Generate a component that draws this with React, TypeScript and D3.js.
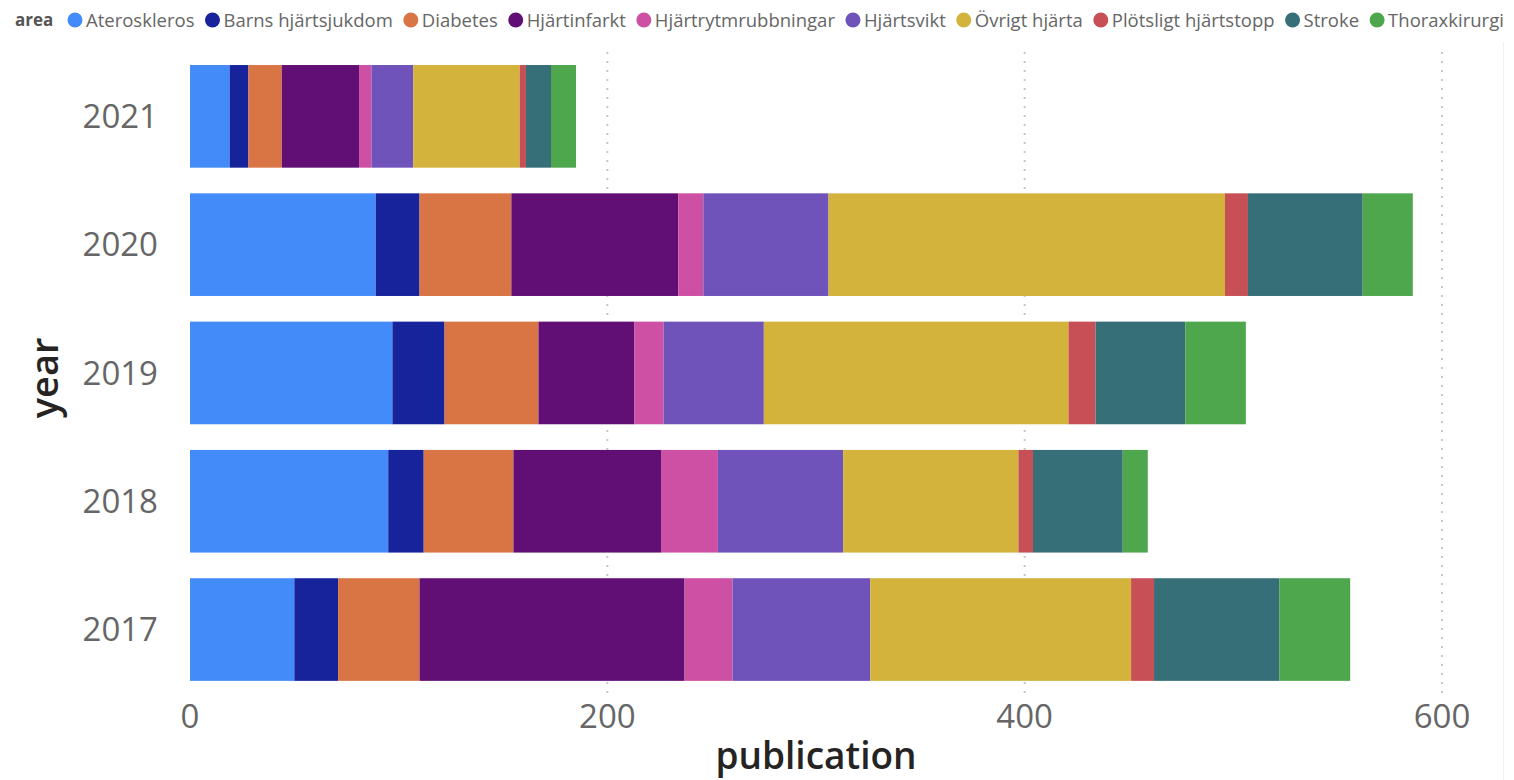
import React, { useEffect, useRef } from "react";
import * as d3 from "d3";

const years = ["2021", "2020", "2019", "2018", "2017"];
const areas = [
  "Ateroskleros",
  "Barns hjärtsjukdom",
  "Diabetes",
  "Hjärtinfarkt",
  "Hjärtrytmrubbningar",
  "Hjärtsvikt",
  "Övrigt hjärta",
  "Plötsligt hjärtstopp",
  "Stroke",
  "Thoraxkirurgi",
];
const areaColors = [
  "#428BF9",
  "#16239A",
  "#D97445",
  "#610F74",
  "#CE50A4",
  "#6F53BA",
  "#D3B33C",
  "#C65055",
  "#366F78",
  "#4EA74C",
];
// publications per area, one array per year (same order as areas)
const values2021 = [19, 9, 16, 37, 6, 20, 51, 3, 12, 12];
const values2020 = [89, 21, 44, 80, 12, 60, 190, 11, 55, 24];
const values2019 = [97, 25, 45, 46, 14, 48, 146, 13, 43, 29];
const values2018 = [95, 17, 43, 71, 27, 60, 84, 7, 43, 12];
const values2017 = [50, 21, 39, 127, 23, 66, 125, 11, 60, 34];
const xTicks = [0, 200, 400, 600];

const W = 1514;
const H = 780;
const FONT = "'Segoe UI', 'Open Sans', 'Noto Sans', sans-serif";

export default function App() {
  const ref = useRef<SVGSVGElement | null>(null);

  useEffect(() => {
    document.body.style.margin = "0";
    const svg = d3.select(ref.current);
    svg.selectAll("*").remove();

    const byYear: Record<string, number[]> = {
      "2021": values2021,
      "2020": values2020,
      "2019": values2019,
      "2018": values2018,
      "2017": values2017,
    };
    const rows = years.map((y) => {
      const r: any = { year: y };
      areas.forEach((a, i) => (r[a] = byYear[y][i]));
      return r;
    });
    const stack = d3.stack<any>().keys(areas)(rows);

    const x = d3.scaleLinear().domain([0, 600]).range([190, 1442]);
    const y = d3
      .scaleBand<string>()
      .domain(years)
      .range([52.2, 693.7])
      .paddingInner(0.2)
      .paddingOuter(0.1);
    const color = d3.scaleOrdinal<string, string>().domain(areas).range(areaColors);

    // gridlines
    svg
      .append("g")
      .selectAll("line")
      .data(xTicks.filter((t) => t > 0))
      .join("line")
      .attr("x1", (d) => x(d))
      .attr("x2", (d) => x(d))
      .attr("y1", 52)
      .attr("y2", 694)
      .attr("stroke", "#c8c6c4")
      .attr("stroke-width", 2)
      .attr("stroke-dasharray", "2,7");

    // right frame line
    svg
      .append("line")
      .attr("x1", 1503.5)
      .attr("x2", 1503.5)
      .attr("y1", 42)
      .attr("y2", H)
      .attr("stroke", "#f0f0f0")
      .attr("stroke-width", 1);

    // bars
    svg
      .append("g")
      .selectAll("g")
      .data(stack)
      .join("g")
      .attr("fill", (d) => color(d.key))
      .selectAll("rect")
      .data((d) => d)
      .join("rect")
      .attr("x", (d) => x(d[0]))
      .attr("width", (d) => x(d[1]) - x(d[0]))
      .attr("y", (d: any) => y(d.data.year)!)
      .attr("height", y.bandwidth());

    // y labels
    svg
      .append("g")
      .selectAll("text")
      .data(years)
      .join("text")
      .attr("x", 158)
      .attr("y", (d) => y(d)! + y.bandwidth() / 2)
      .attr("dy", "0.35em")
      .attr("text-anchor", "end")
      .attr("font-family", FONT)
      .attr("font-size", 33)
      .attr("fill", "#666666")
      .text((d) => d);

    // x labels
    svg
      .append("g")
      .selectAll("text")
      .data(xTicks)
      .join("text")
      .attr("x", (d) => x(d))
      .attr("y", 728)
      .attr("text-anchor", "middle")
      .attr("font-family", FONT)
      .attr("font-size", 33)
      .attr("fill", "#666666")
      .text((d) => String(d));

    // axis titles
    svg
      .append("text")
      .attr("x", 816)
      .attr("y", 769)
      .attr("text-anchor", "middle")
      .attr("font-family", FONT)
      .attr("font-size", 37)
      .attr("font-weight", 600)
      .attr("fill", "#252423")
      .text("publication");

    svg
      .append("text")
      .attr("transform", "translate(58,378) rotate(-90)")
      .attr("text-anchor", "middle")
      .attr("font-family", FONT)
      .attr("font-size", 38)
      .attr("font-weight", 600)
      .attr("fill", "#252423")
      .text("year");

    // legend
    const lg = svg.append("g");
    lg.append("text")
      .attr("x", 15)
      .attr("y", 26)
      .attr("font-family", FONT)
      .attr("font-size", 17)
      .attr("font-weight", 700)
      .attr("fill", "#555555")
      .text("area");
    let cx = 75;
    areas.forEach((a) => {
      lg.append("circle")
        .attr("cx", cx)
        .attr("cy", 20)
        .attr("r", 7.5)
        .attr("fill", color(a));
      const t = lg
        .append("text")
        .attr("x", cx + 11)
        .attr("y", 26.5)
        .attr("font-family", FONT)
        .attr("font-size", 18.5)
        .attr("fill", "#666666")
        .text(a);
      const w = (t.node() as SVGTextElement).getComputedTextLength();
      cx = cx + 11 + w + 18;
    });
  }, []);

  return <svg ref={ref} width={W} height={H} style={{ display: "block" }} />;
}
